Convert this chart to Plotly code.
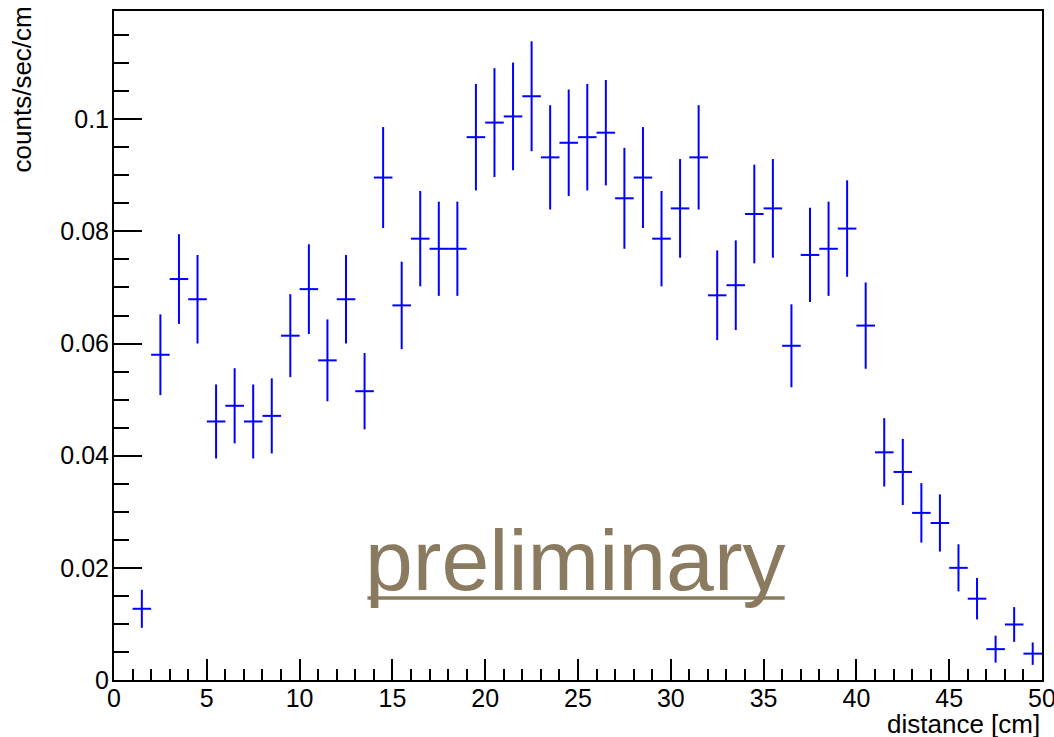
import plotly.graph_objects as go

# Histogram bin centres [cm], bin half-width, rate and its statistical error
bin_centers = [1.5, 2.5, 3.5, 4.5, 5.5, 6.5, 7.5, 8.5, 9.5, 10.5,
               11.5, 12.5, 13.5, 14.5, 15.5, 16.5, 17.5, 18.5, 19.5, 20.5,
               21.5, 22.5, 23.5, 24.5, 25.5, 26.5, 27.5, 28.5, 29.5, 30.5,
               31.5, 32.5, 33.5, 34.5, 35.5, 36.5, 37.5, 38.5, 39.5, 40.5,
               41.5, 42.5, 43.5, 44.5, 45.5, 46.5, 47.5, 48.5, 49.5]
bin_half_width = [0.5] * len(bin_centers)

rate = [0.0127, 0.0580, 0.0715, 0.0679, 0.0461, 0.0489, 0.0461, 0.0471, 0.0614, 0.0697,
        0.0570, 0.0679, 0.0515, 0.0896, 0.0668, 0.0787, 0.0769, 0.0769, 0.0968, 0.0994,
        0.1005, 0.1041, 0.0932, 0.0958, 0.0968, 0.0976, 0.0859, 0.0896, 0.0787, 0.0841,
        0.0932, 0.0686, 0.0704, 0.0831, 0.0841, 0.0596, 0.0758, 0.0769, 0.0805, 0.0632,
        0.0406, 0.0371, 0.0298, 0.0280, 0.0200, 0.0145, 0.0055, 0.0099, 0.0047]

rate_err = [0.0034, 0.0072, 0.0080, 0.0079, 0.0066, 0.0067, 0.0066, 0.0067, 0.0074, 0.0080,
            0.0073, 0.0079, 0.0068, 0.0090, 0.0078, 0.0085, 0.0084, 0.0084, 0.0095, 0.0097,
            0.0096, 0.0098, 0.0093, 0.0095, 0.0095, 0.0094, 0.0090, 0.0090, 0.0085, 0.0088,
            0.0093, 0.0080, 0.0080, 0.0088, 0.0088, 0.0074, 0.0084, 0.0084, 0.0086, 0.0077,
            0.0061, 0.0059, 0.0053, 0.0051, 0.0042, 0.0037, 0.0024, 0.0031, 0.0020]

BLUE = "#0000ff"
WATERMARK = "#8a7b60"
FONT = "Liberation Sans, Arial, Helvetica, sans-serif"

fig = go.Figure()
fig.add_trace(go.Scatter(
    x=bin_centers,
    y=rate,
    mode="markers",
    marker=dict(size=0, color=BLUE, opacity=0),
    error_x=dict(type="data", array=bin_half_width, symmetric=True,
                 color=BLUE, thickness=2, width=0),
    error_y=dict(type="data", array=rate_err, symmetric=True,
                 color=BLUE, thickness=2, width=0),
    showlegend=False,
    hoverinfo="x+y",
))

axis_common = dict(
    showgrid=False,
    zeroline=False,
    showline=True,
    linecolor="black",
    linewidth=2,
    mirror=True,
    ticks="inside",
    tickcolor="black",
    tickwidth=1.5,
    automargin=False,
    ticklabeloverflow="allow",
    tickfont=dict(family=FONT, size=25, color="black"),
)

fig.update_xaxes(
    range=[0, 50],
    tick0=0, dtick=5,
    ticklen=21,
    ticklabelstandoff=-5,
    minor=dict(dtick=1, ticks="inside", ticklen=11, tickcolor="black", tickwidth=1.5),
    **axis_common,
)
fig.update_yaxes(
    range=[0, 0.1193],
    tick0=0, dtick=0.02,
    ticklen=28,
    ticklabelstandoff=-2,
    minor=dict(dtick=0.005, ticks="inside", ticklen=15, tickcolor="black", tickwidth=1.5),
    **axis_common,
)

fig.update_layout(
    width=1054,
    height=737,
    margin=dict(l=114, r=12, t=11, b=57, autoexpand=False),
    paper_bgcolor="white",
    plot_bgcolor="white",
    font=dict(family=FONT, color="black"),
    annotations=[
        # axis titles placed ROOT-style at the far ends of the axes
        dict(text="distance [cm]", xref="paper", yref="paper",
             x=1.0, y=-0.041, xanchor="right", yanchor="top",
             showarrow=False, font=dict(family=FONT, size=26, color="black")),
        dict(text="counts/sec/cm", xref="paper", yref="paper",
             x=-0.099, y=1.01, xanchor="center", yanchor="top", textangle=-90,
             showarrow=False, font=dict(family=FONT, size=26, color="black")),
        # watermark
        dict(text="preliminary", xref="paper", yref="paper",
             x=0.497, y=0.18, xanchor="center", yanchor="middle",
             showarrow=False, font=dict(family=FONT, size=86, color=WATERMARK)),
    ],
    shapes=[
        # underline of the watermark
        dict(type="line", xref="paper", yref="paper",
             x0=0.2731, x1=0.7227, y0=0.1224, y1=0.1224,
             line=dict(color=WATERMARK, width=3.5)),
    ],
)

fig.write_html("out.html")
